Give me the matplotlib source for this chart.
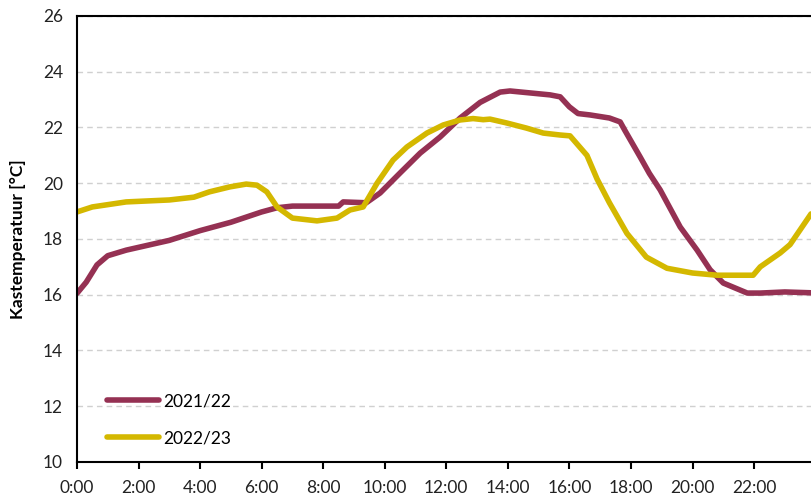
import matplotlib.pyplot as plt

# uur van de dag en kastemperatuur
hours_2122 = [0.0, 0.3, 0.65, 1.0, 1.6, 2.0, 3.0, 4.0, 5.0, 6.0, 6.5, 7.0, 8.0, 8.5, 8.65,
              9.4, 9.85, 10.5, 11.15, 11.8, 12.45, 13.1, 13.75, 14.07, 14.72, 15.37, 15.7,
              16.0, 16.28, 16.67, 17.3, 17.65, 17.8, 18.3, 18.6, 18.95, 19.6, 20.15, 20.57,
              21.0, 21.78, 22.2, 23.0, 23.85]
temp_2122 = [16.05, 16.45, 17.07, 17.4, 17.6, 17.7, 17.95, 18.3, 18.6, 18.97, 19.12, 19.18,
             19.18, 19.18, 19.33, 19.3, 19.65, 20.37, 21.08, 21.66, 22.34, 22.9, 23.27, 23.31,
             23.24, 23.17, 23.1, 22.74, 22.5, 22.45, 22.34, 22.2, 21.9, 20.94, 20.35, 19.76,
             18.43, 17.6, 16.9, 16.42, 16.06, 16.06, 16.1, 16.07]

hours_2223 = [0.0, 0.5, 1.6, 3.0, 3.8, 4.3, 4.97, 5.5, 5.85, 6.17, 6.5, 7.0, 7.8, 8.45, 8.87,
              9.3, 9.75, 10.27, 10.72, 11.37, 11.9, 12.45, 12.87, 13.2, 13.42, 13.97, 14.6,
              15.15, 15.7, 16.02, 16.57, 16.9, 17.3, 17.87, 18.5, 19.17, 20.0, 20.8, 21.97,
              22.2, 22.85, 23.17, 23.85]
temp_2223 = [18.97, 19.15, 19.33, 19.4, 19.5, 19.69, 19.87, 19.97, 19.93, 19.69, 19.15, 18.75,
             18.65, 18.75, 19.04, 19.15, 20.0, 20.83, 21.3, 21.8, 22.09, 22.27, 22.32, 22.28,
             22.3, 22.16, 21.98, 21.8, 21.73, 21.7, 21.0, 20.15, 19.3, 18.2, 17.35, 16.95,
             16.78, 16.7, 16.7, 17.0, 17.5, 17.8, 18.9]

tick_hours = list(range(0, 24, 2))
tick_labels = [f"{h}:00" for h in tick_hours]

plt.rcParams['font.family'] = ['Lato', 'DejaVu Sans']

fig = plt.figure(figsize=(8.11, 4.98), dpi=100)
ax = fig.add_axes([0.0949, 0.0723, 0.9051, 0.8956])

ax.plot(hours_2122, temp_2122, color='#953153', lw=4, label='2021/22',
        solid_capstyle='round', solid_joinstyle='round')
ax.plot(hours_2223, temp_2223, color='#D4B800', lw=4, label='2022/23',
        solid_capstyle='round', solid_joinstyle='round')

ax.set_xlim(0, 23.85)
ax.set_ylim(10, 26)
ax.set_xticks(tick_hours)
ax.set_xticklabels(tick_labels)
ax.set_yticks(range(10, 27, 2))
ax.tick_params(axis='x', direction='out', length=5, width=1.5, labelsize=12.5, pad=8, colors='black')
ax.tick_params(axis='y', length=0, labelsize=12.5, pad=10)
for lbl in ax.get_xticklabels() + ax.get_yticklabels():
    lbl.set_color('#222222')

ax.grid(axis='y', color='#d0d0d0', linestyle=(0, (4, 3)), lw=1)
ax.set_axisbelow(True)
ax.spines['right'].set_visible(False)
for side in ['left', 'bottom', 'top']:
    ax.spines[side].set_linewidth(1.5)

ax.set_ylabel('Kastemperatuur [°C]', fontsize=12.5, fontweight='bold', labelpad=12)

ax.legend(loc='lower left', frameon=False, fontsize=12.5, handlelength=3.0,
          handletextpad=0.2, labelspacing=1.2, bbox_to_anchor=(0.02, 0.0))

fig.savefig('out.png', dpi=100)
